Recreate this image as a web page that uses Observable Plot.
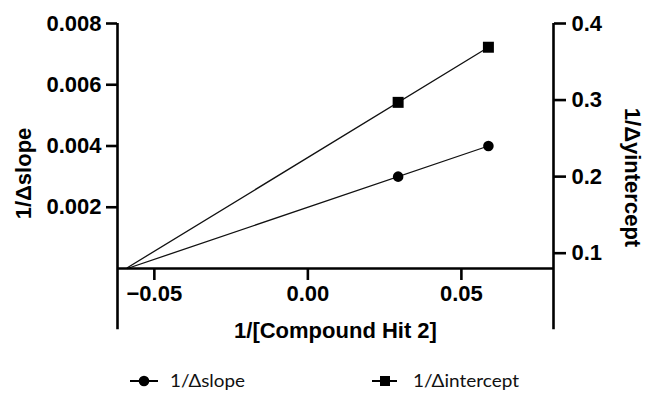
<!DOCTYPE html>
<html><head><meta charset="utf-8">
<script src="https://cdn.jsdelivr.net/npm/d3@7"></script>
<script src="https://cdn.jsdelivr.net/npm/@observablehq/plot@0.6"></script>
<style>
body{margin:0;background:#fff;}
#chart{position:relative;width:645px;height:393px;background:#fff;}
#chart svg{display:block;}
</style>
</head><body><div id="chart"></div>
<script>
const xValues = [0.0294, 0.0588];
const slopeValues = [0.003, 0.004];
const interceptValues = [0.297, 0.369];
const xTicks = [-0.05, 0, 0.05];
const leftTicks = [0.002, 0.004, 0.006, 0.008];
const rightTicks = [0.1, 0.2, 0.3, 0.4];
const xDomain = [-0.062, 0.08];
const leftDomain = [0, 0.008];
const rightDomain = [0.08, 0.4];
const axisFloor = -0.002;
const seriesNames = ["1/Δslope", "1/Δintercept"];
const xTitle = "1/[Compound Hit 2]";
const leftTitle = "1/Δslope";
const rightTitle = "1/Δyintercept";

const toLeft = d3.scaleLinear().domain(rightDomain).range(leftDomain);
const slopeData = xValues.map((x, i) => ({x, y: slopeValues[i]}));
const interceptData = xValues.map((x, i) => ({x, y: toLeft(interceptValues[i])}));
function fit(data) {
  const mx = d3.mean(data, d => d.x), my = d3.mean(data, d => d.y);
  const b = d3.sum(data, d => (d.x - mx) * (d.y - my)) / d3.sum(data, d => (d.x - mx) ** 2);
  return {a: my - b * mx, b};
}
const sf = fit(slopeData), itf = fit(interceptData);
const xStart = -sf.a / sf.b;
const xEnd = d3.max(xValues);
const slopeLine = [xStart, xEnd].map(x => ({x, y: sf.a + sf.b * x}));
const interceptLine = [xStart, xEnd].map(x => ({x, y: itf.a + itf.b * x}));

const font = "'Liberation Sans', Arial, sans-serif";
const T = {fontSize: 22, fontWeight: "bold", fontFamily: font, textAnchor: "middle", lineAnchor: "middle", fill: "#000"};
const AX = {stroke: "#000", strokeWidth: 2.6, fontSize: 22, fontWeight: "bold", fontFamily: font, label: null};

const plot = Plot.plot({
  width: 645, height: 350,
  marginLeft: 117, marginRight: 92, marginTop: 23, marginBottom: 82,
  x: {domain: xDomain},
  y: {domain: leftDomain},
  style: {fontFamily: font, fontWeight: "bold", color: "#000", background: "#fff", overflow: "visible"},
  marks: [
    Plot.line(slopeLine, {x: "x", y: "y", stroke: "#111", strokeWidth: 1.3}),
    Plot.line(interceptLine, {x: "x", y: "y", stroke: "#111", strokeWidth: 1.3}),
    Plot.dot(slopeData, {x: "x", y: "y", r: 5.3, fill: "#000", symbol: "circle"}),
    Plot.dot(interceptData, {x: "x", y: "y", r: 6.2, fill: "#000", symbol: "square"}),
    Plot.ruleY([0], {stroke: "#000", strokeWidth: 2.6}),
    Plot.ruleX([xDomain[0], xDomain[1]], {y1: axisFloor, y2: leftDomain[1], stroke: "#000", strokeWidth: 2.6}),
    Plot.axisY(leftTicks, {...AX, anchor: "left", tickSize: 11, tickPadding: 5, tickFormat: d3.format(".3f")}),
    Plot.axisY(rightTicks.map(toLeft), {...AX, anchor: "right", tickSize: 12, tickPadding: 6, tickFormat: d => d3.format(".1f")(toLeft.invert(d))}),
    Plot.axisX(xTicks, {...AX, anchor: "bottom", tickSize: 12, tickPadding: 5, tickFormat: d3.format(".2f")}),
    Plot.text([leftTitle], {...T, text: d => d, frameAnchor: "left", rotate: -90, dx: -94, dy: 27.5}),
    Plot.text([rightTitle], {...T, text: d => d, frameAnchor: "right", rotate: 90, dx: 79, dy: 31.5}),
    Plot.text([xTitle], {...T, text: d => d, frameAnchor: "bottom", dy: 62})
  ]
});
document.getElementById("chart").appendChild(plot);

// legend below the plot
const ns = "http://www.w3.org/2000/svg";
const leg = document.createElementNS(ns, "svg");
leg.setAttribute("width", 645); leg.setAttribute("height", 43);
const items = [
  {name: seriesNames[0], x0: 130, x1: 158, cx: 144, tx: 170, tl: 75, sym: "circle"},
  {name: seriesNames[1], x0: 372, x1: 397, cx: 385, tx: 413, tl: 106, sym: "square"}
];
const cy = 31;
for (const it of items) {
  const ln = document.createElementNS(ns, "line");
  ln.setAttribute("x1", it.x0); ln.setAttribute("x2", it.x1);
  ln.setAttribute("y1", cy); ln.setAttribute("y2", cy);
  ln.setAttribute("stroke", "#000"); ln.setAttribute("stroke-width", 2);
  leg.appendChild(ln);
  let s;
  if (it.sym === "circle") {
    s = document.createElementNS(ns, "circle");
    s.setAttribute("cx", it.cx); s.setAttribute("cy", cy); s.setAttribute("r", 5.3);
  } else {
    s = document.createElementNS(ns, "rect");
    s.setAttribute("x", it.cx - 5); s.setAttribute("y", cy - 5);
    s.setAttribute("width", 10); s.setAttribute("height", 10);
  }
  s.setAttribute("fill", "#000");
  leg.appendChild(s);
  const t = document.createElementNS(ns, "text");
  t.setAttribute("x", it.tx); t.setAttribute("y", cy);
  t.setAttribute("dy", "0.35em");
  t.setAttribute("font-family", "Lato, 'Open Sans', sans-serif");
  t.setAttribute("font-size", 18);
  t.setAttribute("fill", "#111");
  t.setAttribute("textLength", it.tl);
  t.setAttribute("lengthAdjust", "spacingAndGlyphs");
  t.textContent = it.name;
  leg.appendChild(t);
}
document.getElementById("chart").appendChild(leg);
</script>
</body></html>
